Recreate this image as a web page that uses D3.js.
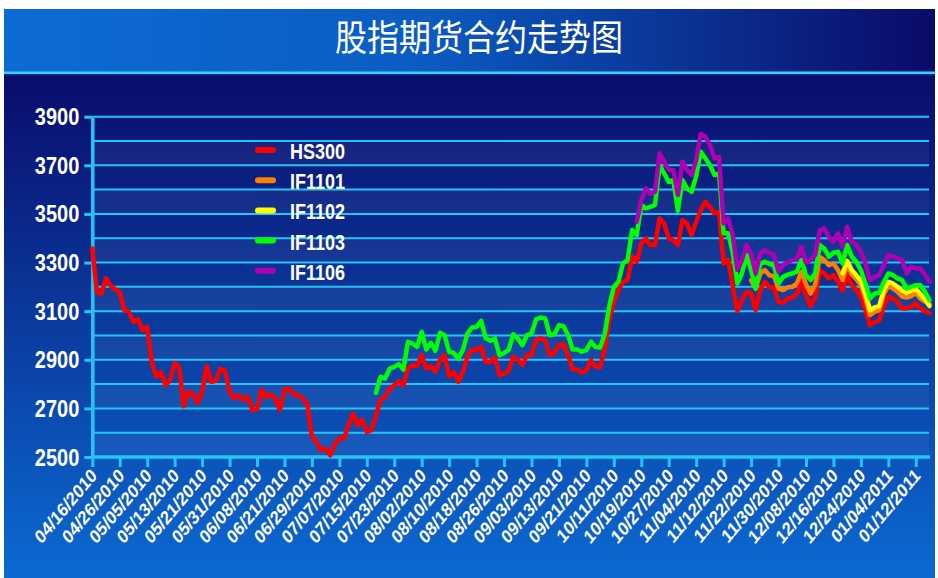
<!DOCTYPE html>
<html>
<head>
<meta charset="utf-8">
<script src="https://cdn.jsdelivr.net/npm/d3@7"></script>
<style>
body { margin: 0; background: #fff; }
svg { display: block; }
</style>
</head>
<body>
<div id="chart"></div>
<script>
'use strict';

// x tick labels, one every 6 trading days starting at index 0
const tickLabels = ['04/16/2010', '04/26/2010', '05/05/2010', '05/13/2010', '05/21/2010', '05/31/2010',
    '06/08/2010', '06/21/2010', '06/29/2010', '07/07/2010', '07/15/2010', '07/23/2010', '08/02/2010',
    '08/10/2010', '08/18/2010', '08/26/2010', '09/03/2010', '09/13/2010', '09/21/2010', '10/11/2010',
    '10/19/2010', '10/27/2010', '11/04/2010', '11/12/2010', '11/22/2010', '11/30/2010', '12/08/2010',
    '12/16/2010', '12/24/2010', '01/04/2011', '01/12/2011'];
const tickStep = 6;
const yTicks = [2500, 2700, 2900, 3100, 3300, 3500, 3700, 3900];

const seriesNames = ['HS300', 'IF1101', 'IF1102', 'IF1103', 'IF1106'];
const seriesColors = ['#ff0000', '#ff8000', '#ffff00', '#00ff00', '#b000b4'];
// first trading-day index of each series
const seriesStart = [0, 144, 164, 62, 119];

const hs300 = [
    3358, 3178, 3172, 3235, 3205, 3190, 3178, 3104, 3097, 3056,
    3066, 3022, 3035, 2891, 2830, 2850, 2795, 2816, 2887, 2868,
    2709, 2768, 2761, 2722, 2768, 2874, 2809, 2813, 2864, 2854,
    2768, 2741, 2754, 2736, 2747, 2693, 2695, 2778, 2747, 2758,
    2741, 2693, 2778, 2782, 2757, 2754, 2741, 2717, 2585, 2562,
    2528, 2535, 2507, 2553, 2576, 2576, 2631, 2679, 2631, 2654,
    2603, 2610, 2670, 2736, 2747, 2782, 2795, 2812, 2795, 2864,
    2878, 2874, 2919, 2864, 2874, 2850, 2898, 2919, 2832, 2850,
    2809, 2850, 2912, 2940, 2940, 2953, 2891, 2891, 2909, 2837,
    2843, 2854, 2912, 2901, 2878, 2919, 2919, 2981, 2988, 2981,
    2919, 2928, 2960, 2964, 2919, 2860, 2860, 2846, 2857, 2898,
    2871, 2868, 2946, 3063, 3138, 3187, 3221, 3228, 3324, 3303,
    3379, 3399, 3372, 3372, 3482, 3461, 3399, 3392, 3372, 3475,
    3461, 3413, 3468, 3516, 3550, 3529, 3502, 3509, 3296, 3310,
    3200, 3101, 3145, 3180, 3173, 3104, 3187, 3221, 3198, 3198,
    3138, 3134, 3152, 3156, 3170, 3221, 3166, 3121, 3156, 3269,
    3255, 3235, 3248, 3221, 3184, 3248, 3207, 3187, 3159, 3104,
    3042, 3056, 3060, 3121, 3159, 3152, 3138, 3111, 3111, 3118,
    3132, 3111, 3100, 3091
];

const if1101 = [
    3227, 3193, 3255, 3269, 3248, 3244, 3193, 3187, 3198, 3200,
    3214, 3262, 3211, 3173, 3207, 3324, 3310, 3289, 3296, 3269,
    3228, 3289, 3252, 3231, 3207, 3152, 3084, 3097, 3104, 3170,
    3203, 3193, 3180, 3160, 3156, 3162, 3175, 3152, 3140, 3129
];

const if1102 = [
    3255, 3307, 3269, 3248, 3227, 3173, 3104, 3115, 3121, 3187,
    3221, 3214, 3200, 3185, 3175, 3184, 3193, 3170, 3150, 3121
];

const if1103 = [
    2764, 2830, 2823, 2864, 2871, 2882, 2860, 2974, 2967, 2953,
    3015, 2942, 2970, 2937, 3011, 3001, 2933, 2928, 2905, 2940,
    3008, 3033, 3035, 3060, 2988, 2978, 2988, 2919, 2928, 2940,
    3005, 2988, 2960, 3001, 3008, 3066, 3074, 3070, 3001, 3005,
    3042, 3038, 3001, 2942, 2942, 2933, 2940, 2974, 2953, 2950,
    3005, 3120, 3200, 3221, 3296, 3310, 3434, 3413, 3537, 3523,
    3529, 3537, 3701, 3667, 3632, 3639, 3513, 3639, 3605, 3591,
    3656, 3756, 3729, 3701, 3660, 3667, 3420, 3420, 3340, 3214,
    3255, 3331, 3269, 3193, 3296, 3303, 3295, 3289, 3214, 3241,
    3250, 3255, 3262, 3310, 3248, 3228, 3255, 3372, 3358, 3324,
    3340, 3344, 3296, 3372, 3324, 3303, 3269, 3214, 3152, 3173,
    3175, 3220, 3255, 3248, 3235, 3228, 3193, 3200, 3207, 3207,
    3180, 3145
];

const if1106 = [
    3468, 3557, 3605, 3582, 3591, 3749, 3715, 3681, 3681, 3578,
    3715, 3681, 3660, 3722, 3829, 3818, 3784, 3729, 3735, 3461,
    3482, 3413, 3270, 3310, 3372, 3337, 3255, 3337, 3351, 3340,
    3331, 3262, 3290, 3300, 3310, 3313, 3365, 3299, 3310, 3331,
    3431, 3441, 3406, 3386, 3420, 3365, 3447, 3386, 3372, 3344,
    3296, 3228, 3241, 3248, 3290, 3331, 3324, 3318, 3310, 3255,
    3282, 3275, 3275, 3250, 3221
];

const seriesValues = [hs300, if1101, if1102, if1103, if1106];

let w = 938, h = 578;
let plot = { left: 92.3, right: 929.5, top: 116.7, bottom: 457 };
let cyan = '#22c6f4';
let font = '"Liberation Sans", Arial, sans-serif';

let svg = d3.select('#chart').append('svg').attr('width', w).attr('height', h);
let defs = svg.append('defs');

let titleGrad = defs.append('linearGradient').attr('id', 'titleGrad')
    .attr('x1', 0).attr('x2', 1).attr('y1', 0).attr('y2', 0);
titleGrad.append('stop').attr('offset', '0%').attr('stop-color', '#0c6cd4');
titleGrad.append('stop').attr('offset', '45%').attr('stop-color', '#0b5cc2');
titleGrad.append('stop').attr('offset', '100%').attr('stop-color', '#0a0a68');

let bodyGrad = defs.append('linearGradient').attr('id', 'bodyGrad')
    .attr('x1', 0).attr('x2', 0).attr('y1', 0).attr('y2', 1);
bodyGrad.append('stop').attr('offset', '0%').attr('stop-color', '#0a0c6c');
bodyGrad.append('stop').attr('offset', '100%').attr('stop-color', '#0b6ad2');

// panel + title band
svg.append('rect').attr('x', 4).attr('y', 75).attr('width', 931).attr('height', h - 75)
    .attr('fill', 'url(#bodyGrad)');
svg.append('rect').attr('x', 4).attr('y', 9).attr('width', 931).attr('height', 63)
    .attr('fill', 'url(#titleGrad)');
svg.append('rect').attr('x', 4).attr('y', 71.5).attr('width', 931).attr('height', 2.5).attr('fill', '#38d2f8');
svg.append('rect').attr('x', 4).attr('y', 74).attr('width', 931).attr('height', 1.5).attr('fill', '#0a2c8c');

svg.append('g').attr('transform', 'translate(479,38) scale(1,1.15)')
    .append('text')
    .attr('text-anchor', 'middle').attr('dy', '0.36em')
    .attr('fill', '#fff')
    .style('font-family', '"Noto Sans CJK SC", sans-serif')
    .style('font-size', '32px')
    .text('股指期货合约走势图');

let x = d3.scaleLinear().domain([0, hs300.length - 1]).range([plot.left, plot.right]);
let y = d3.scaleLinear().domain([2500, 3900]).range([plot.bottom, plot.top]);

// alternating light bands
let bandLows = d3.range(2500, 3900, 200);
svg.append('g').selectAll('rect').data(bandLows).join('rect')
    .attr('x', plot.left).attr('width', 929 - plot.left)
    .attr('y', d => y(d + 100)).attr('height', d => y(d) - y(d + 100))
    .attr('fill', '#ffffff').attr('opacity', 0.05);

// gridlines every 100
svg.append('g').selectAll('line').data(d3.range(2600, 3901, 100)).join('line')
    .attr('x1', plot.left).attr('x2', 929)
    .attr('y1', d => y(d)).attr('y2', d => y(d))
    .attr('stroke', cyan).attr('stroke-width', 2);

// axes
let xAxis = d3.axisBottom(x)
    .tickValues(tickLabels.map((d, i) => i * tickStep))
    .tickFormat((d, i) => tickLabels[i])
    .tickSize(10).tickSizeOuter(0);
let gx = svg.append('g').attr('transform', `translate(0,${plot.bottom})`).call(xAxis);
gx.select('.domain').attr('stroke', cyan).attr('stroke-width', 3.5).attr('d', `M${plot.left - 1},0H930`);
gx.selectAll('.tick line').attr('stroke', cyan).attr('stroke-width', 3);
gx.selectAll('.tick text')
    .attr('x', 0).attr('y', 0).attr('dy', '0.35em')
    .attr('text-anchor', 'end')
    .attr('transform', 'translate(1,15) scale(1,1.2) rotate(-45)')
    .attr('fill', '#fff')
    .style('font-family', font).style('font-weight', 'bold').style('font-size', '16px');

let yAxis = d3.axisLeft(y).tickValues(yTicks).tickFormat(d3.format('d')).tickSize(8).tickSizeOuter(0);
let gy = svg.append('g').attr('transform', `translate(${plot.left},0)`).call(yAxis);
gy.select('.domain').attr('stroke', cyan).attr('stroke-width', 3.5);
gy.selectAll('.tick line').attr('stroke', cyan).attr('stroke-width', 3);
gy.selectAll('.tick text')
    .attr('x', -13).attr('dy', '0.35em')
    .attr('transform', 'scale(1,1.15)')
    .attr('fill', '#fff')
    .style('font-family', font).style('font-weight', 'bold').style('font-size', '20px');

// series lines
let line = d3.line()
    .x(d => x(d.i))
    .y(d => y(d.v));

seriesValues.forEach(function (vals, s) {
    let pts = vals.map((v, k) => ({ i: seriesStart[s] + k, v: v }));
    svg.append('path')
        .datum(pts)
        .attr('d', line)
        .attr('fill', 'none')
        .attr('stroke', seriesColors[s])
        .attr('stroke-width', 4.5)
        .attr('stroke-linejoin', 'round')
        .attr('stroke-linecap', 'round');
});

// legend
let legend = svg.append('g');
seriesNames.forEach(function (name, s) {
    let ly = 150 + s * 30.2;
    legend.append('line')
        .attr('x1', 258).attr('x2', 273).attr('y1', ly).attr('y2', ly)
        .attr('stroke', seriesColors[s]).attr('stroke-width', 6).attr('stroke-linecap', 'round');
    legend.append('g').attr('transform', `translate(290,${ly + 1}) scale(1,1.22)`)
        .append('text')
        .attr('dy', '0.36em')
        .attr('fill', '#fff')
        .style('font-family', font).style('font-weight', 'bold').style('font-size', '18px')
        .text(name);
});
</script>
</body>
</html>
